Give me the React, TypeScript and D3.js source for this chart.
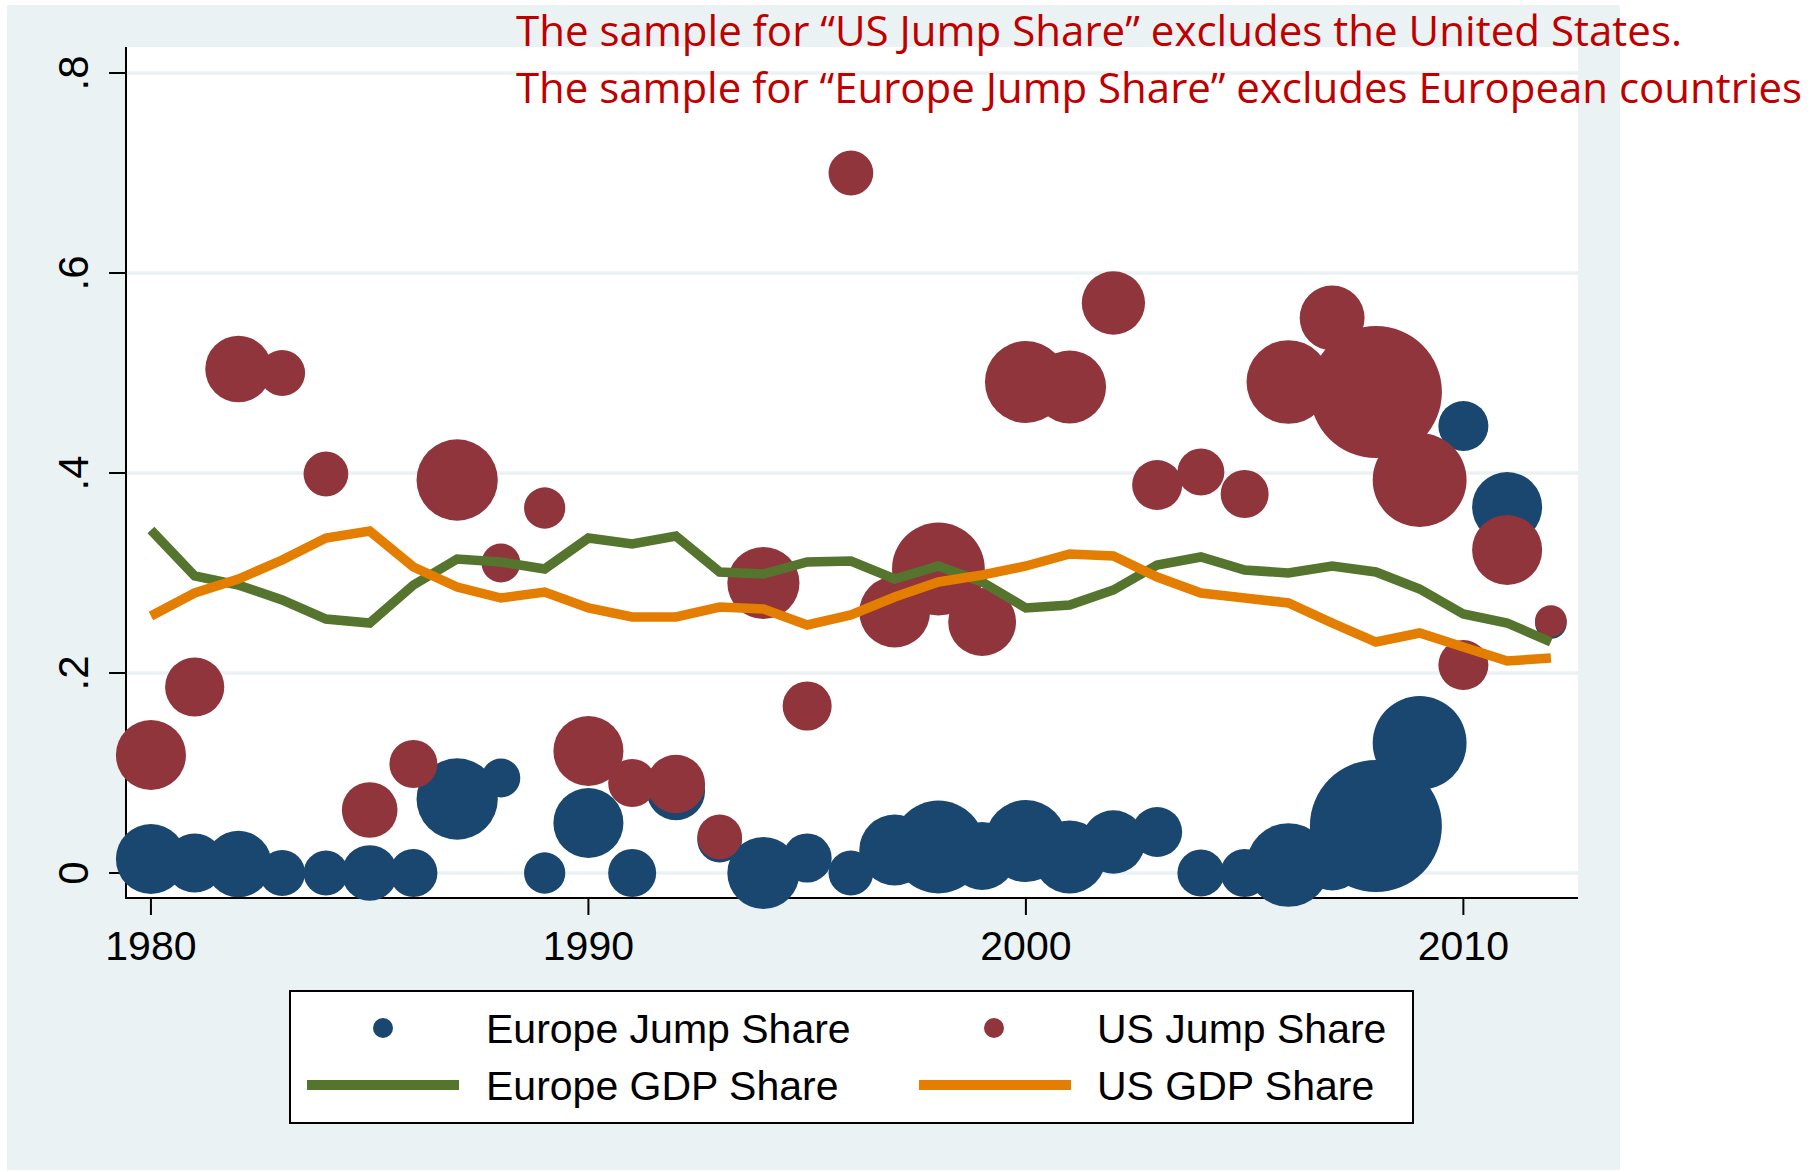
import React from "react";
import * as d3 from "d3";

const years = [1980, 1981, 1982, 1983, 1984, 1985, 1986, 1987, 1988, 1989, 1990, 1991, 1992, 1993, 1994, 1995, 1996, 1997, 1998, 1999, 2000, 2001, 2002, 2003, 2004, 2005, 2006, 2007, 2008, 2009, 2010, 2011, 2012];

const europeJump = [0.014, 0.010, 0.009, 0.000, 0.000, 0.000, 0.000, 0.074, 0.095, 0.000, 0.050, 0.000, 0.082, 0.033, 0.000, 0.015, 0.000, 0.023, 0.026, 0.017, 0.032, 0.016, 0.031, 0.041, 0.000, 0.000, 0.008, 0.015, 0.047, 0.130, 0.447, 0.366, 0.250];

const usJump = [0.118, 0.186, 0.504, 0.500, 0.399, 0.063, 0.109, 0.393, 0.310, 0.365, 0.122, 0.090, 0.089, 0.036, 0.290, 0.167, 0.700, 0.261, 0.304, 0.251, 0.491, 0.486, 0.570, 0.388, 0.401, 0.379, 0.491, 0.555, 0.481, 0.393, 0.208, 0.323, 0.252];

const europeGDP = [0.343, 0.297, 0.288, 0.273, 0.254, 0.250, 0.288, 0.314, 0.311, 0.304, 0.335, 0.329, 0.337, 0.301, 0.299, 0.311, 0.312, 0.294, 0.307, 0.291, 0.265, 0.268, 0.283, 0.308, 0.316, 0.303, 0.300, 0.307, 0.301, 0.284, 0.259, 0.250, 0.231];

const usGDP = [0.257, 0.280, 0.294, 0.313, 0.335, 0.342, 0.306, 0.286, 0.275, 0.281, 0.265, 0.256, 0.256, 0.266, 0.264, 0.248, 0.258, 0.276, 0.291, 0.298, 0.307, 0.319, 0.317, 0.296, 0.280, 0.275, 0.270, 0.250, 0.231, 0.240, 0.226, 0.212, 0.215];

// bubble weights (same weight for both jump-share series in a year)
const jumpWeight = [49, 35, 44, 21, 20, 31, 23, 66, 15, 17, 49, 23, 34, 20, 52, 24, 20, 50, 86, 46, 67, 53, 40, 25, 22, 23, 70, 42, 174, 88, 25, 49, 10];

const xTicks = [1980, 1990, 2000, 2010];
const yTicks = [0, 0.2, 0.4, 0.6, 0.8];
const yTickLabels = ["0", ".2", ".4", ".6", ".8"];

const noteLines = [
  "The sample for \u201cUS Jump Share\u201d excludes the United States.",
  "The sample for \u201cEurope Jump Share\u201d excludes European countries",
];

const C = {
  bg: "#EAF2F3",
  blue: "#1A476F",
  red: "#90353B",
  green: "#55752F",
  orange: "#E37E00",
  note: "#C00000",
};

const W = 1812;
const H = 1172;
const plot = { left: 126, right: 1578, top: 47, bottom: 898 };

export default function App() {
  const x = d3.scaleLinear().domain([1979.43, 2012.62]).range([plot.left, plot.right]);
  const y = d3.scaleLinear().domain([-0.025, 0.826]).range([plot.bottom, plot.top]);
  const r = d3.scaleSqrt().domain([0, d3.max(jumpWeight) as number]).range([0, 66]);

  const line = d3
    .line<number>()
    .x((_, i) => x(years[i]))
    .y((d) => y(d));

  const axisFont = "'Liberation Sans', Arial, Helvetica, sans-serif";

  return (
    <div style={{ position: "absolute", left: 0, top: 0 }}>
      <svg width={W} height={H} viewBox={`0 0 ${W} ${H}`} style={{ display: "block" }}>
        <rect x={0} y={0} width={W} height={H} fill="#ffffff" />
        <rect x={7} y={5} width={1613} height={1165} fill={C.bg} />
        <rect x={plot.left} y={plot.top} width={plot.right - plot.left} height={plot.bottom - plot.top} fill="#ffffff" />

        {/* gridlines */}
        {yTicks.map((t) => (
          <line key={"g" + t} x1={plot.left} x2={plot.right} y1={y(t)} y2={y(t)} stroke={C.bg} strokeWidth={3.5} />
        ))}

        {/* axes */}
        <line x1={plot.left} x2={plot.left} y1={plot.top} y2={plot.bottom + 1} stroke="#000" strokeWidth={2} />
        <line x1={plot.left - 1} x2={plot.right} y1={plot.bottom} y2={plot.bottom} stroke="#000" strokeWidth={2} />
        {yTicks.map((t, i) => (
          <g key={"yt" + t}>
            <line x1={plot.left - 17} x2={plot.left} y1={y(t)} y2={y(t)} stroke="#000" strokeWidth={2} />
            <text
              transform={`translate(${88},${y(t)}) rotate(-90)`}
              textAnchor="middle"
              fontFamily={axisFont}
              fontSize={42}
              fill="#000"
            >
              {yTickLabels[i]}
            </text>
          </g>
        ))}
        {xTicks.map((t) => (
          <g key={"xt" + t}>
            <line x1={x(t)} x2={x(t)} y1={plot.bottom} y2={plot.bottom + 17} stroke="#000" strokeWidth={2} />
            <text x={x(t)} y={960} textAnchor="middle" fontFamily={axisFont} fontSize={41} fill="#000">
              {t}
            </text>
          </g>
        ))}

        {/* bubbles */}
        <g>
          {europeJump.map((v, i) => (
            <circle key={"e" + i} cx={x(years[i])} cy={y(v)} r={r(jumpWeight[i])} fill={C.blue} />
          ))}
        </g>
        <g>
          {usJump.map((v, i) => (
            <circle key={"u" + i} cx={x(years[i])} cy={y(v)} r={r(jumpWeight[i])} fill={C.red} />
          ))}
        </g>

        {/* lines */}
        <path d={line(europeGDP) || ""} fill="none" stroke={C.green} strokeWidth={9.5} strokeLinejoin="miter" />
        <path d={line(usGDP) || ""} fill="none" stroke={C.orange} strokeWidth={9.5} strokeLinejoin="miter" />

        {/* legend */}
        <g fontFamily={axisFont} fontSize={41} fill="#000">
          <rect x={290} y={991} width={1123} height={132} fill="#ffffff" stroke="#000" strokeWidth={2} />
          <circle cx={383} cy={1028} r={10} fill={C.blue} />
          <text x={486} y={1043}>Europe Jump Share</text>
          <circle cx={994} cy={1028} r={10} fill={C.red} />
          <text x={1097} y={1043}>US Jump Share</text>
          <line x1={307} x2={459} y1={1085} y2={1085} stroke={C.green} strokeWidth={10} />
          <text x={486} y={1100}>Europe GDP Share</text>
          <line x1={919} x2={1071} y1={1085} y2={1085} stroke={C.orange} strokeWidth={10} />
          <text x={1097} y={1100}>US GDP Share</text>
        </g>

        {/* note */}
        <g fontFamily="'Open Sans', 'Noto Sans', sans-serif" fontSize={42} fill={C.note}>
          <text x={516} y={46} textLength={1166} lengthAdjust="spacingAndGlyphs">{noteLines[0]}</text>
          <text x={516} y={103} textLength={1286} lengthAdjust="spacingAndGlyphs">{noteLines[1]}</text>
        </g>
      </svg>
    </div>
  );
}
